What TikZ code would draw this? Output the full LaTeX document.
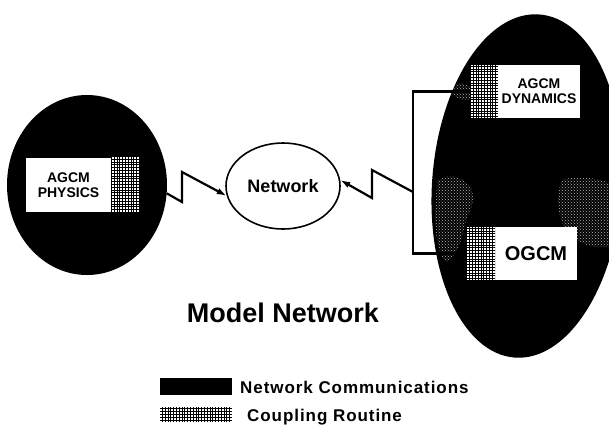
\documentclass[tikz,border=0pt]{standalone}
\usepackage{fontspec}
\setmainfont{Liberation Sans}
\usetikzlibrary{shapes.geometric,arrows.meta,patterns}
\begin{document}
\begin{tikzpicture}[x=1pt,y=-1pt,
  blob/.style={ellipse,fill=black,draw=none,inner sep=0pt},
  modbox/.style={fill=white,draw=none,inner sep=0pt,align=center},
  coupling/.style={fill=white,draw=none,inner sep=0pt,
    path picture={\draw[line width=0.9pt,step=2.8pt]
      (path picture bounding box.south west) grid (path picture bounding box.north east);}},
  speckle/.style={pattern=crosshatch dots,pattern color=gray!55},
  bolt/.style={line width=2.2pt,line join=miter,-{Latex[length=10pt,width=6.5pt]}},
  wire/.style={line width=2.6pt},
  small/.style={font=\bfseries\fontsize{14}{15}\selectfont},
  keytext/.style={font=\bfseries\fontsize{17}{19}\selectfont\addfontfeatures{LetterSpace=5.5},
    inner sep=0pt,anchor=base west}
]
\useasboundingbox (0,0) rectangle (609,432);
\clip (0,0) rectangle (609,432);
\fill[white] (0,0) rectangle (609,432);

% machines
\node[blob,minimum width=160pt,minimum height=180pt] (phys) at (87,185) {};
\node[blob,minimum width=190pt,minimum height=344pt,rotate=-4] (ocean) at (527,186) {};

% worn, grainy parts of the ocean machine
\begin{scope}
  \clip[rotate around={-4:(527,186)}] (527,186) ellipse [x radius=94, y radius=171];
  \fill[speckle] (438,180) .. controls (450,172) and (466,178) .. (472,190)
    .. controls (476,204) and (468,212) .. (465,224)
    .. controls (462,242) and (455,258) .. (446,262)
    .. controls (436,252) and (432,218) .. (438,180) -- cycle;
  \fill[speckle] (562,180) .. controls (576,175) and (600,178) .. (612,184)
    -- (612,246) .. controls (596,250) and (577,244) .. (567,232)
    .. controls (558,218) and (555,196) .. (562,180) -- cycle;
  \fill[speckle] (446,85) .. controls (455,81) and (465,83) .. (471,88)
    -- (471,99) .. controls (462,102) and (451,98) .. (446,85) -- cycle;
\end{scope}

% atmospheric physics
\node[modbox,small,minimum width=85pt,minimum height=54pt] (physbox) at (68.5,185) {AGCM\\PHYSICS};
\node[coupling,minimum width=27pt,minimum height=55pt] (physcpl) at (125.5,184.5) {};

% atmospheric dynamics
\node[modbox,small,minimum width=82pt,minimum height=53pt] (dynbox) at (539,91.5) {AGCM\\DYNAMICS};
\node[coupling,minimum width=27pt,minimum height=53pt] (dyncpl) at (484.5,91.5) {};

% ocean model
\node[modbox,font=\bfseries\fontsize{20}{22}\selectfont,minimum width=82pt,minimum height=53pt] (ogbox) at (536,253.5) {OGCM};
\node[coupling,minimum width=28pt,minimum height=53pt] (ogcpl) at (481,253.5) {};

% network
\node[draw,ellipse,line width=1.6pt,minimum width=114pt,minimum height=86pt,inner sep=0pt,
      font=\bfseries\fontsize{18}{20}\selectfont] (net) at (283,186) {Network};

% links
\draw[wire] (dyncpl.west) -- ++(-58,0) |- (ogcpl.west);
\coordinate (tap) at (413,192);
\draw[bolt] (phys.-6) -- (182,202) -- (182,172) -- (net.190);
\draw[bolt] (tap) -- (372,170) -- (372,198) -- (net.6);

% title
\node[font=\bfseries\fontsize{27}{30}\selectfont,inner sep=0pt,anchor=base] (title) at (283,322) {Model Network};

% legend
\node[fill=black,minimum width=72pt,minimum height=17pt,inner sep=0pt] (keynet) at (196,386.5) {};
\node[coupling,minimum width=72pt,minimum height=15pt] (keycpl) at (196,414.5) {};
\node[keytext] (keynettext) at (240,393) {Network Communications};
\node[keytext] (keycpltext) at (247,421.5) {Coupling Routine};
\end{tikzpicture}
\end{document}
